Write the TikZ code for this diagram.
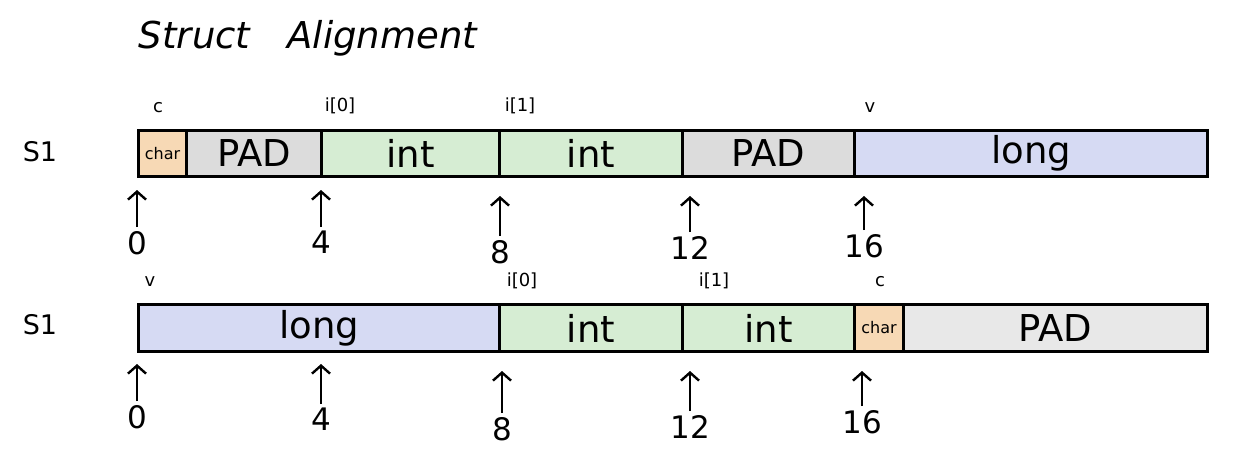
\documentclass[tikz,border=0pt]{standalone}
\usepackage{fontspec}
\setmainfont{DejaVu Sans}
\usetikzlibrary{arrows.meta}
\definecolor{longcol}{HTML}{D6DAF3}
\definecolor{intcol}{HTML}{D6EDD3}
\definecolor{padcol}{HTML}{DCDCDC}
\definecolor{padcolb}{HTML}{E8E8E8}
\definecolor{charcol}{HTML}{F7D9B5}
\begin{document}
\begin{tikzpicture}[x=1pt,y=-1pt,
  cell/.style={draw=black,line width=3pt,inner sep=0pt,anchor=north west,font=\fontsize{37}{40}\selectfont},
  charc/.style={cell,fill=charcol,font=\fontsize{16}{18}\selectfont},
  padc/.style={cell,fill=padcol},
  intc/.style={cell,fill=intcol},
  longc/.style={cell,fill=longcol},
  lbl/.style={font=\fontsize{18}{20}\selectfont},
  num/.style={font=\fontsize{31}{33}\selectfont,inner sep=0pt,anchor=north},
  arr/.style={-{Straight Barb[length=8pt,width=18pt]},line width=2.4pt,shorten <=4pt}]
\useasboundingbox (0,0) rectangle (1236,463);
\node[font=\fontsize{37}{40}\selectfont\itshape] (title) at (308,38) {Struct\quad Alignment};
% Row 1
\node[font=\fontsize{27}{29}\selectfont] (s1a) at (40,152) {S1};
\node[charc,minimum width=48pt,minimum height=46pt] (a1) at (137,129) {char};
\node[padc,minimum width=135pt,minimum height=46pt] (a2) at (185,129) {PAD};
\node[intc,minimum width=178pt,minimum height=46pt] (a3) at (320,129) {int};
\node[intc,minimum width=183pt,minimum height=46pt] (a4) at (498,129) {int};
\node[padc,minimum width=172pt,minimum height=46pt] (a5) at (681,129) {PAD};
\node[longc,minimum width=353pt,minimum height=46pt] (a6) at (853,129) {long};
\node[lbl] (la1) at (158,108) {c};
\node[lbl] (la3) at (340,106) {i[0]};
\node[lbl] (la4) at (520,106) {i[1]};
\node[lbl] (la6) at (870,108) {v};
\coordinate (ya) at (0,190);
\coordinate (yb) at (0,196);
\node[num] (na0) at (137,231) {0};
\node[num] (na4) at (321,231) {4};
\node[num] (na8) at (500,240) {8};
\node[num] (na12) at (690,236) {12};
\node[num] (na16) at (864,234) {16};
\draw[arr] (na0.north) -- (na0.north |- ya);
\draw[arr] (na4.north) -- (na4.north |- ya);
\draw[arr] (na8.north) -- (na8.north |- yb);
\draw[arr] (na12.north) -- (na12.north |- yb);
\draw[arr] (na16.north) -- (na16.north |- yb);
% Row 2
\node[font=\fontsize{27}{29}\selectfont] (s1b) at (40,325) {S1};
\node[longc,minimum width=361pt,minimum height=47pt] (b1) at (137,303) {long};
\node[intc,minimum width=183pt,minimum height=47pt] (b2) at (498,303) {int};
\node[intc,minimum width=172pt,minimum height=47pt] (b3) at (681,303) {int};
\node[charc,minimum width=49pt,minimum height=47pt] (b4) at (853,303) {char};
\node[padc,fill=padcolb,minimum width=304pt,minimum height=47pt] (b5) at (902,303) {PAD};
\node[lbl] (lb1) at (150,282) {v};
\node[lbl] (lb2) at (522,281) {i[0]};
\node[lbl] (lb3) at (714,281) {i[1]};
\node[lbl] (lb4) at (880,282) {c};
\coordinate (yc) at (0,364);
\coordinate (yd) at (0,371);
\node[num] (nb0) at (137,405) {0};
\node[num] (nb4) at (321,408) {4};
\node[num] (nb8) at (502,417) {8};
\node[num] (nb12) at (690,415) {12};
\node[num] (nb16) at (862,410) {16};
\draw[arr] (nb0.north) -- (nb0.north |- yc);
\draw[arr] (nb4.north) -- (nb4.north |- yc);
\draw[arr] (nb8.north) -- (nb8.north |- yd);
\draw[arr] (nb12.north) -- (nb12.north |- yd);
\draw[arr] (nb16.north) -- (nb16.north |- yd);
\end{tikzpicture}
\end{document}
